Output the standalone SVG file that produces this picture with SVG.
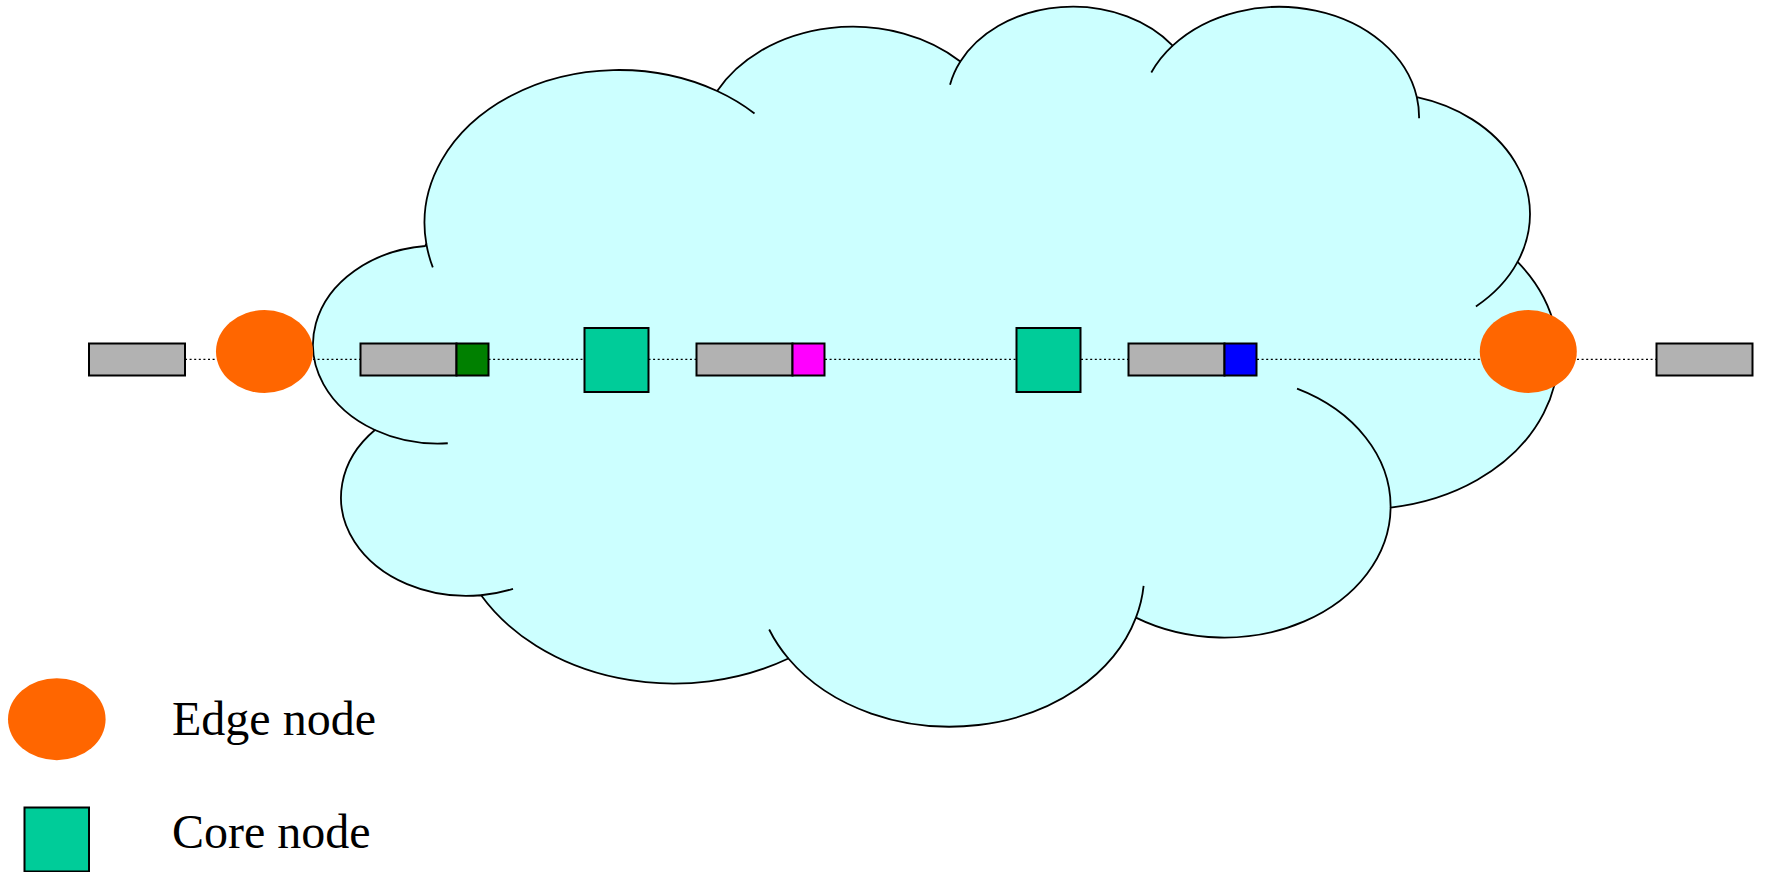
<svg xmlns="http://www.w3.org/2000/svg" width="1765" height="872" viewBox="0 0 1765 872">
<style>
.cloud{fill:#CCFFFF;stroke:#000;stroke-width:1.8;stroke-linejoin:round}
.inner{fill:none;stroke:#000;stroke-width:1.8;stroke-linecap:butt}
.link{stroke:#000;stroke-width:1.3;stroke-dasharray:2 2.6;fill:none}
.buf{fill:#B2B2B2;stroke:#000;stroke-width:2}
.core{fill:#00CC99;stroke:#000;stroke-width:2}
.edge{fill:#FF6600}
.lbl{font-family:"Liberation Serif","Times New Roman",serif;font-size:48px;fill:#000}
</style>
<g id="cloud">
<path class="cloud" d="M426.29,243.72 A194.36,153.10 0 0 1 717.15,91.00 A153.49,121.06 0 0 1 960.36,61.54 A125.63,99.04 0 0 1 1172.65,45.64 A139.79,109.87 0 0 1 1416.85,97.21 A153.49,121.16 0 0 1 1517.59,261.87 A194.99,153.60 0 0 1 1390.61,507.54 A166.50,131.06 0 0 1 1135.93,617.65 A194.33,153.51 0 0 1 788.39,658.49 A222.19,175.64 0 0 1 481.11,595.26 A125.49,98.59 0 0 1 374.88,429.97 A125.05,99.04 0 0 1 425.23,245.98 Z"/>
<path class="inner" d="M447.77,443.24 A125.05,99.04 0 0 1 374.88,429.97 M513,588.9 A125.49,98.59 0 0 1 481.11,595.26 M788.39,658.49 A194.33,153.51 0 0 1 769.17,629.49 M1143.61,585.85 A194.33,153.51 0 0 1 1135.93,617.65 M1297.05,388.67 A166.50,131.06 0 0 1 1390.61,507.54 M1517.59,261.87 A153.49,121.16 0 0 1 1475.90,306.46 M1416.85,97.21 A139.79,109.87 0 0 1 1419.06,118.26 M1151.31,72.49 A139.79,109.87 0 0 1 1172.65,45.64 M950.03,84.67 A125.63,99.04 0 0 1 960.36,61.54 M717.15,91.00 A194.36,153.10 0 0 1 754.53,113.46 M432.81,267.36 A194.36,153.10 0 0 1 426.29,243.72"/>
</g>
<g id="connectors">
<line class="link" x1="185" y1="359.3" x2="216" y2="359.3"/>
<line class="link" x1="313" y1="359.3" x2="360.5" y2="359.3"/>
<line class="link" x1="488.5" y1="359.3" x2="584.5" y2="359.3"/>
<line class="link" x1="648.5" y1="359.3" x2="696.5" y2="359.3"/>
<line class="link" x1="825" y1="359.3" x2="1016" y2="359.3"/>
<line class="link" x1="1081" y1="359.3" x2="1128" y2="359.3"/>
<line class="link" x1="1257" y1="359.3" x2="1480" y2="359.3"/>
<line class="link" x1="1577" y1="359.3" x2="1656" y2="359.3"/>
</g>
<g id="src-buffer"><rect class="buf" x="89" y="343.5" width="96" height="32"/></g>
<g id="edge-left"><ellipse class="edge" cx="264.5" cy="351.5" rx="48.5" ry="41.5"/></g>
<g id="burst-green"><rect class="buf" x="360.5" y="343.5" width="96" height="32"/><rect x="456.5" y="343.5" width="32" height="32" fill="#008000" stroke="#000" stroke-width="2"/></g>
<g id="core-1"><rect class="core" x="584.5" y="328" width="64" height="64"/></g>
<g id="burst-magenta"><rect class="buf" x="696.5" y="343.5" width="96" height="32"/><rect x="792.5" y="343.5" width="32" height="32" fill="#FF00FF" stroke="#000" stroke-width="2"/></g>
<g id="core-2"><rect class="core" x="1016.5" y="328" width="64" height="64"/></g>
<g id="burst-blue"><rect class="buf" x="1128.5" y="343.5" width="96" height="32"/><rect x="1224.5" y="343.5" width="32" height="32" fill="#0000FF" stroke="#000" stroke-width="2"/></g>
<g id="edge-right"><ellipse class="edge" cx="1528.3" cy="351.5" rx="48.5" ry="41.5"/></g>
<g id="dst-buffer"><rect class="buf" x="1656.5" y="343.5" width="96" height="32"/></g>
<g id="legend-edge"><ellipse class="edge" cx="56.8" cy="719.2" rx="48.8" ry="41"/><text class="lbl" x="172" y="735">Edge node</text></g>
<g id="legend-core"><rect class="core" x="24.5" y="807.5" width="64.5" height="64"/><text class="lbl" x="172" y="848">Core node</text></g>
</svg>
